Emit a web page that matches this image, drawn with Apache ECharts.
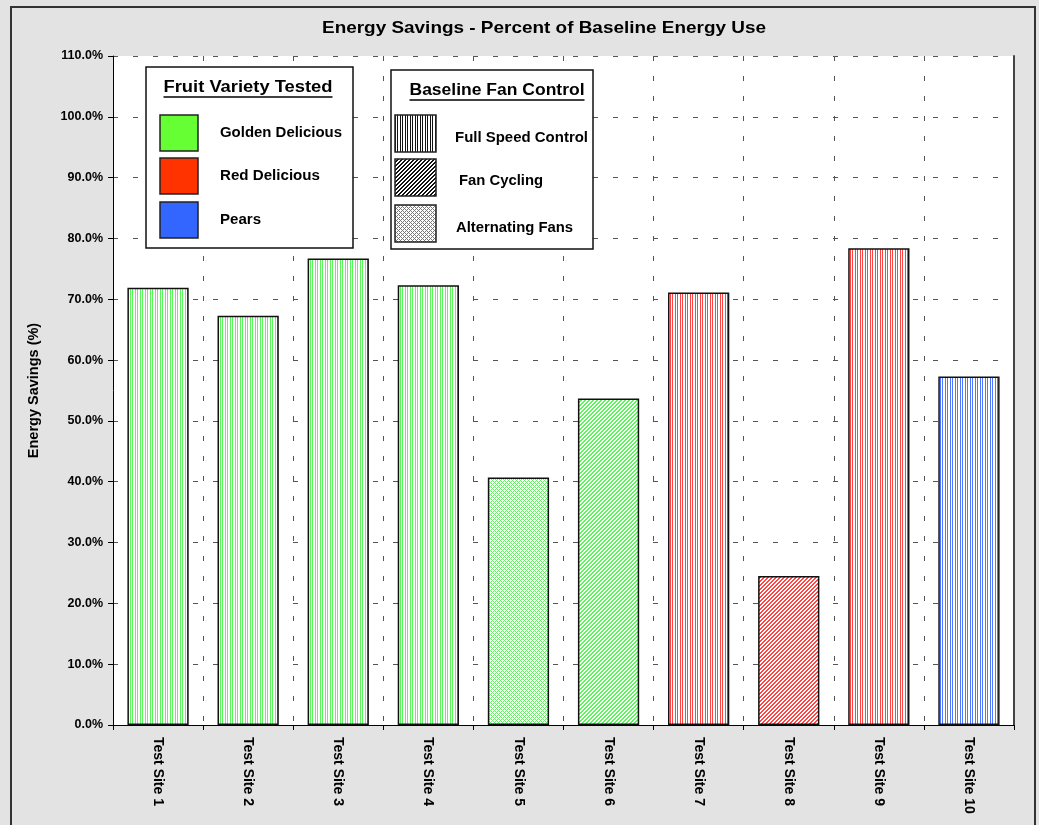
<!DOCTYPE html>
<html>
<head>
<meta charset="utf-8">
<title>Energy Savings</title>
<script src="https://cdn.jsdelivr.net/npm/echarts@6/dist/echarts.min.js"></script>
<style>
  html, body { margin: 0; padding: 0; background: #ffffff; }
  #chart { width: 1039px; height: 825px; }
</style>
</head>
<body>
<div id="chart"></div>
<script>
// ---- data ----
const categories = ['Test Site 1', 'Test Site 2', 'Test Site 3', 'Test Site 4', 'Test Site 5',
                    'Test Site 6', 'Test Site 7', 'Test Site 8', 'Test Site 9', 'Test Site 10'];
const savings = [71.9, 67.3, 76.7, 72.3, 40.7, 53.7, 71.1, 24.5, 78.4, 57.3];

const varieties = ['Golden Delicious', 'Red Delicious', 'Pears'];
const varietyColors = ['#66ff33', '#ff3300', '#3366ff'];
// hatch line colours used inside the bars
const varietyHatch = ['#5cf55c', '#ff4444', '#4f78ff'];
const siteVariety = [0, 0, 0, 0, 0, 0, 1, 1, 1, 2];

const controls = ['Full Speed Control', 'Fan Cycling', 'Alternating Fans'];
const controlKinds = ['vertical', 'diagonal', 'cross'];
const siteControl = [0, 0, 0, 0, 2, 1, 0, 1, 0, 0];

const titleText = 'Energy Savings - Percent of Baseline Energy Use';
const yAxisTitle = 'Energy Savings (%)';
const varietyTitle = 'Fruit Variety Tested';
const controlTitle = 'Baseline Fan Control';

// ---- hatch patterns ----
function makePattern(kind, color) {
  const c = document.createElement('canvas');
  const ctx = c.getContext('2d');
  if (kind === 'vertical') {
    c.width = 5; c.height = 5;
    ctx.fillStyle = '#ffffff'; ctx.fillRect(0, 0, 5, 5);
    ctx.fillStyle = color;
    ctx.fillRect(0, 0, 1, 5);
    ctx.fillRect(2, 0, 1, 5);
  } else if (kind === 'diagonal') {
    c.width = 4; c.height = 4;
    ctx.fillStyle = '#ffffff'; ctx.fillRect(0, 0, 4, 4);
    ctx.fillStyle = color;
    for (let x = 0; x < 4; x++) for (let y = 0; y < 4; y++) {
      if ((x + y) % 4 < 2) ctx.fillRect(x, y, 1, 1);
    }
  } else {
    c.width = 4; c.height = 4;
    ctx.fillStyle = '#ffffff'; ctx.fillRect(0, 0, 4, 4);
    ctx.fillStyle = color;
    for (let x = 0; x < 4; x++) for (let y = 0; y < 4; y++) {
      if ((x + y) % 4 === 0 || (x - y + 8) % 4 === 0) ctx.fillRect(x, y, 1, 1);
    }
  }
  return { image: c, repeat: 'repeat' };
}

const FONT = '"Liberation Sans", Arial, sans-serif';

function textWidth(str, size) {
  const ctx = document.createElement('canvas').getContext('2d');
  ctx.font = 'bold ' + size + 'px ' + FONT;
  return ctx.measureText(str).width;
}

// bold text stretched horizontally to a given drawn width
function wideText(text, x, y, size, width, align) {
  return {
    type: 'text', z: 101, x: x, y: y,
    scaleX: width / textWidth(text, size), scaleY: 1,
    style: { text: text, fill: '#000', font: 'bold ' + size + 'px ' + FONT, align: align, verticalAlign: 'middle' }
  };
}

const barData = savings.map(function (v, i) {
  return {
    value: v,
    itemStyle: {
      color: makePattern(controlKinds[siteControl[i]], varietyHatch[siteVariety[i]]),
      borderColor: '#111111',
      borderWidth: 1.5
    }
  };
});

// ---- legend boxes drawn as graphics ----
const LZ = 100;
function underlinedTitle(text, cx, cy, size, width) {
  return [
    wideText(text, cx, cy, size, width, 'center'),
    { type: 'line', z: LZ + 1, shape: { x1: cx - width / 2, y1: cy + 9, x2: cx + width / 2, y2: cy + 9 }, style: { stroke: '#000', lineWidth: 1.4 } }
  ];
}

const graphics = [];
// chart frame
graphics.push({ type: 'rect', z: LZ, silent: true, shape: { x: 11, y: 7, width: 1024, height: 830 },
  style: { fill: 'none', stroke: '#333', lineWidth: 2 } });
// title
graphics.push(wideText(titleText, 544, 28, 17, 444, 'center'));

// fruit variety legend
graphics.push({ type: 'rect', z: LZ, shape: { x: 146, y: 67, width: 207, height: 181 }, style: { fill: '#fff', stroke: '#111', lineWidth: 1.5 } });
underlinedTitle(varietyTitle, 248, 88, 16, 169).forEach(function (g) { graphics.push(g); });
const varietyRowY = [115, 158, 202];
const varietyTextW = [122, 100, 41];
varieties.forEach(function (name, i) {
  graphics.push({ type: 'rect', z: LZ + 1, shape: { x: 160, y: varietyRowY[i], width: 38, height: 36 },
    style: { fill: varietyColors[i], stroke: '#222', lineWidth: 1.5 } });
  graphics.push(wideText(name, 220, varietyRowY[i] + 18, 14.5, varietyTextW[i], 'left'));
});

// fan control legend
graphics.push({ type: 'rect', z: LZ, shape: { x: 391, y: 70, width: 202, height: 179 }, style: { fill: '#fff', stroke: '#111', lineWidth: 1.5 } });
underlinedTitle(controlTitle, 497, 91, 16, 175).forEach(function (g) { graphics.push(g); });
const controlRowY = [115, 159, 205];
const controlTextX = [455, 459, 456];
const controlTextY = [138, 181, 228];
const controlTextW = [133, 84, 117];
controls.forEach(function (name, i) {
  graphics.push({ type: 'rect', z: LZ + 1, shape: { x: 395, y: controlRowY[i], width: 41, height: 37 },
    style: { fill: makePattern(controlKinds[i], i === 2 ? '#777' : '#111'), stroke: '#222', lineWidth: 1.5 } });
  graphics.push(wideText(name, controlTextX[i], controlTextY[i], 14, controlTextW[i], 'left'));
});

const gridDash = { color: '#555', width: 1, type: [5, 15] };

const option = {
  animation: false,
  backgroundColor: '#e3e3e3',
  textStyle: { fontFamily: FONT },
  grid: { left: 113, right: 25, top: 56, bottom: 100, show: true, backgroundColor: '#ffffff', borderWidth: 0 },
  xAxis: {
    type: 'category',
    data: categories,
    boundaryGap: true,
    axisLine: { show: true, lineStyle: { color: '#000', width: 1 } },
    axisTick: { show: true, length: 5, lineStyle: { color: '#000' } },
    axisLabel: { interval: 0, rotate: -90, margin: 12, color: '#000', fontWeight: 'bold', fontSize: 14, fontFamily: FONT },
    splitLine: { show: true, lineStyle: gridDash }
  },
  yAxis: [{
    type: 'value',
    min: 0, max: 110, interval: 10,
    name: yAxisTitle,
    nameLocation: 'middle',
    nameGap: 72,
    nameRotate: 90,
    nameTextStyle: { color: '#000', fontWeight: 'bold', fontSize: 14.5, fontFamily: FONT },
    axisLine: { show: true, lineStyle: { color: '#000', width: 1 } },
    axisTick: { show: true, length: 5, lineStyle: { color: '#000' } },
    axisLabel: { margin: 10, color: '#000', fontWeight: 'bold', fontSize: 12.5, fontFamily: FONT,
      formatter: function (v) { return v.toFixed(1) + '%'; } },
    splitLine: { show: true, lineStyle: gridDash }
  }, {
    type: 'value', position: 'right',
    min: 0, max: 110, interval: 10,
    axisLine: { show: true, lineStyle: { color: '#444', width: 2 } },
    axisTick: { show: false }, axisLabel: { show: false }, splitLine: { show: false }
  }],
  series: [{
    type: 'bar',
    data: barData,
    barCategoryGap: '32%',
    z: 3
  }],
  graphic: graphics
};

const chart = echarts.init(document.getElementById('chart'), null, { renderer: 'canvas' });
chart.setOption(option);
</script>
</body>
</html>
